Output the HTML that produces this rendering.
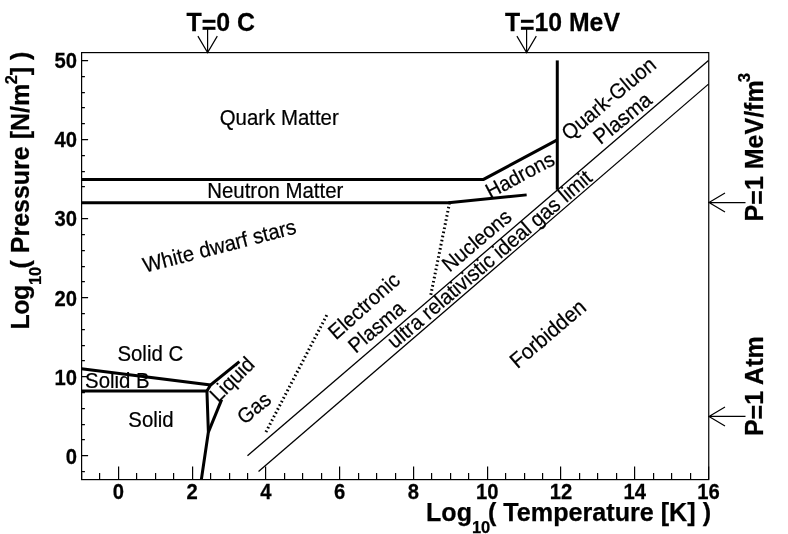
<!DOCTYPE html>
<html><head><meta charset="utf-8"><title>Phase diagram</title>
<style>html,body{margin:0;padding:0;background:#fff;}body{width:788px;height:534px;overflow:hidden;position:relative;font-family:"Liberation Sans",sans-serif;}</style></head>
<body>
<svg width="788" height="534" viewBox="0 0 788 534" style="position:absolute;left:0;top:0;will-change:transform;filter:grayscale(1)" font-family="Liberation Sans, sans-serif">
<rect x="0" y="0" width="788" height="534" fill="#fff"/>
<rect x="81.6" y="52.6" width="627.15" height="427.0" fill="none" stroke="#000" stroke-width="1.2"/>
<path d="M81.6 479.6V473.1M99.6 479.6V473.1M118.6 479.6V466.6M136.6 479.6V473.1M155.6 479.6V473.1M173.6 479.6V473.1M192.6 479.6V466.6M210.6 479.6V473.1M229.6 479.6V473.1M247.6 479.6V473.1M265.6 479.6V466.6M284.6 479.6V473.1M302.6 479.6V473.1M321.6 479.6V473.1M339.6 479.6V466.6M358.6 479.6V473.1M376.6 479.6V473.1M395.6 479.6V473.1M413.6 479.6V466.6M431.6 479.6V473.1M450.6 479.6V473.1M468.6 479.6V473.1M487.6 479.6V466.6M505.6 479.6V473.1M524.6 479.6V473.1M542.6 479.6V473.1M560.6 479.6V466.6M579.6 479.6V473.1M597.6 479.6V473.1M616.6 479.6V473.1M634.6 479.6V466.6M653.6 479.6V473.1M671.6 479.6V473.1M690.6 479.6V473.1M708.6 479.6V466.6M81.6 471.6H84.89999999999999M81.6 455.6H88.1M81.6 439.6H84.89999999999999M81.6 424.6H84.89999999999999M81.6 408.6H84.89999999999999M81.6 392.6H84.89999999999999M81.6 376.6H88.1M81.6 360.6H84.89999999999999M81.6 345.6H84.89999999999999M81.6 329.6H84.89999999999999M81.6 313.6H84.89999999999999M81.6 297.6H88.1M81.6 281.6H84.89999999999999M81.6 266.6H84.89999999999999M81.6 250.6H84.89999999999999M81.6 234.6H84.89999999999999M81.6 218.6H88.1M81.6 202.6H84.89999999999999M81.6 186.6H84.89999999999999M81.6 171.6H84.89999999999999M81.6 155.6H84.89999999999999M81.6 139.6H88.1M81.6 123.6H84.89999999999999M81.6 107.6H84.89999999999999M81.6 92.6H84.89999999999999M81.6 76.6H84.89999999999999M81.6 60.6H88.1" stroke="#000" stroke-width="1.2" fill="none"/>
<g font-weight="bold" font-size="21.4px" fill="#000" stroke="#000" stroke-width="0.25">
<text transform="translate(118.38,499.4) scale(0.945,1)" text-anchor="middle">0</text>
<text transform="translate(192.14,499.4) scale(0.945,1)" text-anchor="middle">2</text>
<text transform="translate(265.91,499.4) scale(0.945,1)" text-anchor="middle">4</text>
<text transform="translate(339.67,499.4) scale(0.945,1)" text-anchor="middle">6</text>
<text transform="translate(413.44,499.4) scale(0.945,1)" text-anchor="middle">8</text>
<text transform="translate(487.2,499.4) scale(0.945,1)" text-anchor="middle">10</text>
<text transform="translate(560.96,499.4) scale(0.945,1)" text-anchor="middle">12</text>
<text transform="translate(634.73,499.4) scale(0.945,1)" text-anchor="middle">14</text>
<text transform="translate(708.49,499.4) scale(0.945,1)" text-anchor="middle">16</text>
<text transform="translate(76.9,463.68) scale(0.945,1)" text-anchor="end">0</text>
<text transform="translate(76.9,384.61) scale(0.945,1)" text-anchor="end">10</text>
<text transform="translate(76.9,305.53) scale(0.945,1)" text-anchor="end">20</text>
<text transform="translate(76.9,226.46) scale(0.945,1)" text-anchor="end">30</text>
<text transform="translate(76.9,147.38) scale(0.945,1)" text-anchor="end">40</text>
<text transform="translate(76.9,68.31) scale(0.945,1)" text-anchor="end">50</text>
</g>
<path d="M81.5 179.42 L483.51 179.42 L557.28 139.88" stroke="#000" stroke-width="3" fill="none" stroke-linejoin="miter" />
<path d="M557.28 60.41 L557.28 189.7" stroke="#000" stroke-width="3" fill="none" stroke-linejoin="miter" />
<path d="M81.5 202.74 L450.32 202.74" stroke="#000" stroke-width="3" fill="none" stroke-linejoin="miter" />
<path d="M448.47 202.74 L526.66 194.84" stroke="#000" stroke-width="2.8" fill="none" stroke-linejoin="miter" />
<path d="M81.5 368.8 L210.58 385.01 L206.9 390.94" stroke="#000" stroke-width="3" fill="none" stroke-linejoin="miter" />
<path d="M81.5 390.94 L207.63 390.94" stroke="#000" stroke-width="3" fill="none" stroke-linejoin="miter" />
<path d="M210.58 385.01 L239.35 361.68" stroke="#000" stroke-width="3" fill="none" stroke-linejoin="miter" />
<path d="M206.9 390.15 L208.37 432.06 L201.36 479.5" stroke="#000" stroke-width="3" fill="none" stroke-linejoin="miter" />
<path d="M208.37 432.06 L221.65 399.64" stroke="#000" stroke-width="3" fill="none" stroke-linejoin="miter" />
<path d="M247.47 455.78 L708.49 60.41" stroke="#000" stroke-width="1.3" fill="none" stroke-linejoin="miter" />
<path d="M258.53 471.59 L708.49 84.13" stroke="#000" stroke-width="1.3" fill="none" stroke-linejoin="miter" />
<path d="M265.91 432.06 L327.87 313.05" stroke="#000" stroke-width="3" fill="none" stroke-linejoin="miter" stroke-dasharray="1.6 2.6"/>
<path d="M449.58 202.74 L430.4 296.84" stroke="#000" stroke-width="3" fill="none" stroke-linejoin="miter" stroke-dasharray="1.6 2.6"/>
<path d="M207.6 28V52.5M197.9 36.1L207.6 52.5L217.29999999999998 36.1" stroke="#000" stroke-width="1.2" fill="none"/>
<path d="M526.6 28V52.5M516.9 36.1L526.6 52.5L536.3000000000001 36.1" stroke="#000" stroke-width="1.2" fill="none"/>
<path d="M745.5 202.6H709M725 193.1L709 202.6L725 212.1" stroke="#000" stroke-width="1.2" fill="none"/>
<path d="M745.5 416.4H709M725 406.9L709 416.4L725 425.9" stroke="#000" stroke-width="1.2" fill="none"/>
<text transform="translate(279.2,125.0) scale(0.95,1)" font-size="21.47px" text-anchor="middle" stroke="#000" stroke-width="0.22">Quark Matter</text>
<text transform="translate(275.3,198.0) scale(0.95,1)" font-size="21.47px" text-anchor="middle" stroke="#000" stroke-width="0.22">Neutron Matter</text>
<text transform="translate(221.2,253) rotate(-14.5) scale(0.95,1)" font-size="21.47px" text-anchor="middle" stroke="#000" stroke-width="0.22">White dwarf stars</text>
<text transform="translate(150.3,360.9) scale(0.95,1)" font-size="21.47px" text-anchor="middle" stroke="#000" stroke-width="0.22">Solid C</text>
<text transform="translate(117.4,387.5) scale(0.95,1)" font-size="21.47px" text-anchor="middle" stroke="#000" stroke-width="0.22">Solid B</text>
<text transform="translate(151,427) scale(0.95,1)" font-size="21.47px" text-anchor="middle" stroke="#000" stroke-width="0.22">Solid</text>
<text transform="translate(237,384.5) rotate(-45) scale(0.95,1)" font-size="21.05px" text-anchor="middle" stroke="#000" stroke-width="0.22">Liquid</text>
<text transform="translate(258.5,413.5) rotate(-40) scale(0.95,1)" font-size="21.05px" text-anchor="middle" stroke="#000" stroke-width="0.22">Gas</text>
<text transform="translate(336,340.5) rotate(-41.8) scale(0.95,1)" font-size="21.05px" text-anchor="start" stroke="#000" stroke-width="0.22">Electronic</text>
<text transform="translate(355.7,353.9) rotate(-40.5) scale(0.95,1)" font-size="21.05px" text-anchor="start" stroke="#000" stroke-width="0.22">Plasma</text>
<text transform="translate(449.5,272.8) rotate(-40.2) scale(0.95,1)" font-size="21.05px" text-anchor="start" stroke="#000" stroke-width="0.22">Nucleons</text>
<text transform="translate(394.85,349.6) rotate(-40.5) scale(0.95,1)" font-size="21.26px" text-anchor="start" stroke="#000" stroke-width="0.22">ultra relativistic ideal gas limit</text>
<text transform="translate(552.5,339.2) rotate(-40.5) scale(0.95,1)" font-size="21.58px" text-anchor="middle" stroke="#000" stroke-width="0.22">Forbidden</text>
<text transform="translate(523.3,181.3) rotate(-28) scale(0.95,1)" font-size="20.84px" text-anchor="middle" stroke="#000" stroke-width="0.22">Hadrons</text>
<text transform="translate(569.0,141.2) rotate(-40) scale(0.95,1)" font-size="21.26px" text-anchor="start" stroke="#000" stroke-width="0.22">Quark-Gluon</text>
<text transform="translate(627.0,123.8) rotate(-39) scale(0.95,1)" font-size="21.47px" text-anchor="middle" stroke="#000" stroke-width="0.22">Plasma</text>
<text transform="translate(220.8,30.8) scale(0.96,1)" font-size="25.94px" text-anchor="middle" font-weight="bold" stroke="#000" stroke-width="0.25">T<tspan dy="3">=</tspan><tspan dy="-3">0 C</tspan></text>
<text transform="translate(562.4,30.8) scale(0.96,1)" font-size="25.83px" text-anchor="middle" font-weight="bold" stroke="#000" stroke-width="0.25">T<tspan dy="3">=</tspan><tspan dy="-3">10 MeV</tspan></text>
<text x="426.1" y="520.7" font-size="25px" font-weight="bold" stroke="#000" stroke-width="0.25">Log<tspan dy="12" font-size="16.5px">10</tspan><tspan dy="-12" dx="-2.3" font-size="25.15px">( Temperature [K] )</tspan></text>
<text transform="translate(29.3,329.5) rotate(-90)" font-size="25px" font-weight="bold" stroke="#000" stroke-width="0.25"><tspan letter-spacing="-0.47">Log</tspan><tspan dy="12" font-size="16.5px">10</tspan><tspan dy="-12" dx="-1.8">( Pressure [N/m</tspan><tspan dy="-11.9" dx="-0.6" font-size="16.3px">2</tspan><tspan dy="11.9" dx="0">] )</tspan></text>
<text transform="translate(762.9,221.4) rotate(-90)" font-size="25px" font-weight="bold" stroke="#000" stroke-width="0.25">P<tspan dy="3">=</tspan><tspan dy="-3">1 MeV/fm</tspan><tspan dy="-13.2" dx="-1.9" font-size="16.8px">3</tspan></text>
<text transform="translate(763.2,436.1) rotate(-90)" font-size="25px" font-weight="bold" stroke="#000" stroke-width="0.25">P<tspan dy="3">=</tspan><tspan dy="-3">1 Atm</tspan></text>
</svg>
</body></html>
